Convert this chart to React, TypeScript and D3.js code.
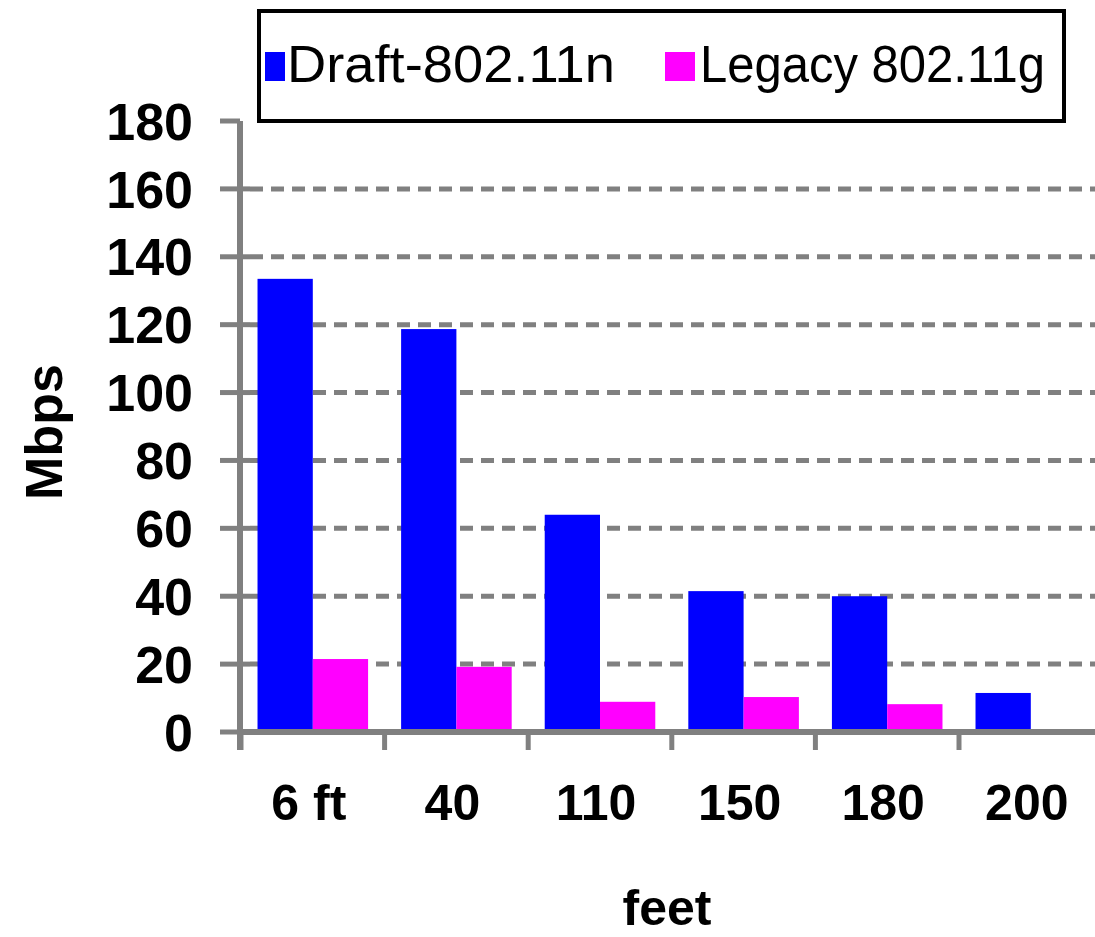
import React from "react";
import * as d3 from "d3";

const categories = ["6 ft", "40", "110", "150", "180", "200"];
const seriesNames = ["Draft-802.11n", "Legacy 802.11g"];
const draftValues = [133.5, 118.7, 64, 41.5, 40, 11.5];
const legacyValues = [21.5, 19.2, 8.9, 10.3, 8.2, 0];
const yTicks = [0, 20, 40, 60, 80, 100, 120, 140, 160, 180];
const colors = ["#0000ff", "#ff00ff"];

const W = 1095;
const H = 937;
const GRAY = "#808080";
const FONT = "'Liberation Sans', Arial, sans-serif";

export default function App() {
  const y = d3.scaleLinear().domain([0, 180]).range([732, 121]);
  const x0 = d3
    .scaleBand<string>()
    .domain(categories)
    .range([241, 241 + 6 * 143.6])
    .paddingInner(0.23)
    .paddingOuter(0.115);
  const x1 = d3
    .scaleBand<string>()
    .domain(seriesNames)
    .range([0, x0.bandwidth()]);
  const series = [draftValues, legacyValues];
  const tickXs = categories.map((c) => (x0(c) as number) - x0.step() * 0.115);

  return (
    <svg
      width={W}
      height={H}
      style={{ position: "absolute", left: 0, top: 0, display: "block", background: "#fff" }}
    >
      {/* gridlines */}
      {yTicks
        .filter((t) => t > 0 && t < 180)
        .map((t) => (
          <line
            key={"g" + t}
            x1={250}
            x2={W}
            y1={y(t)}
            y2={y(t)}
            stroke={GRAY}
            strokeWidth={5}
            strokeDasharray="13 8"
          />
        ))}
      {/* bars */}
      {categories.map((c, i) =>
        series.map((vals, s) =>
          vals[i] > 0 ? (
            <rect
              key={c + s}
              x={(x0(c) as number) + (x1(seriesNames[s]) as number)}
              y={y(vals[i])}
              width={x1.bandwidth()}
              height={y(0) - y(vals[i])}
              fill={colors[s]}
            />
          ) : null
        )
      )}
      {/* y axis */}
      <line x1={240} x2={240} y1={y(180)} y2={750} stroke={GRAY} strokeWidth={6} />
      {yTicks.map((t) => (
        <line
          key={"yt" + t}
          x1={220}
          x2={t === 180 ? 240 : 250}
          y1={y(t)}
          y2={y(t)}
          stroke={GRAY}
          strokeWidth={5}
        />
      ))}
      {yTicks.map((t) => (
        <text
          key={"yl" + t}
          x={193}
          y={y(t)}
          dy="0.36em"
          textAnchor="end"
          fontFamily={FONT}
          fontWeight="bold"
          fontSize={52}
          fill="#000"
        >
          {t}
        </text>
      ))}
      {/* x axis */}
      <line x1={237} x2={W} y1={y(0)} y2={y(0)} stroke={GRAY} strokeWidth={6} />
      {tickXs.map((tx, i) => (
        <line key={"xt" + i} x1={tx} x2={tx} y1={732} y2={750} stroke={GRAY} strokeWidth={5} />
      ))}
      {categories.map((c) => (
        <text
          key={"xl" + c}
          x={(x0(c) as number) + x0.bandwidth() / 2 - 4}
          y={820}
          textAnchor="middle"
          fontFamily={FONT}
          fontWeight="bold"
          fontSize={50}
          fill="#000"
        >
          {c}
        </text>
      ))}
      {/* axis titles */}
      <text
        transform={`translate(62,432) rotate(-90)`}
        textAnchor="middle"
        fontFamily={FONT}
        fontWeight="bold"
        fontSize={52}
        fill="#000"
      >
        Mbps
      </text>
      <text
        x={667}
        y={925}
        textAnchor="middle"
        fontFamily={FONT}
        fontWeight="bold"
        fontSize={50}
        fill="#000"
      >
        feet
      </text>
      {/* legend */}
      <rect x={259} y={11} width={805} height={110} fill="#fff" stroke="#000" strokeWidth={4} />
      <rect x={265} y={52} width={20} height={29} fill={colors[0]} />
      <text
        x={287}
        y={82}
        fontFamily={FONT}
        fontSize={52}
        fill="#000"
        textLength={328}
        lengthAdjust="spacingAndGlyphs"
      >
        {seriesNames[0]}
      </text>
      <rect x={665} y={52} width={30} height={29} fill={colors[1]} />
      <text
        x={700}
        y={82}
        fontFamily={FONT}
        fontSize={52}
        fill="#000"
        textLength={345}
        lengthAdjust="spacingAndGlyphs"
      >
        {seriesNames[1]}
      </text>
    </svg>
  );
}
